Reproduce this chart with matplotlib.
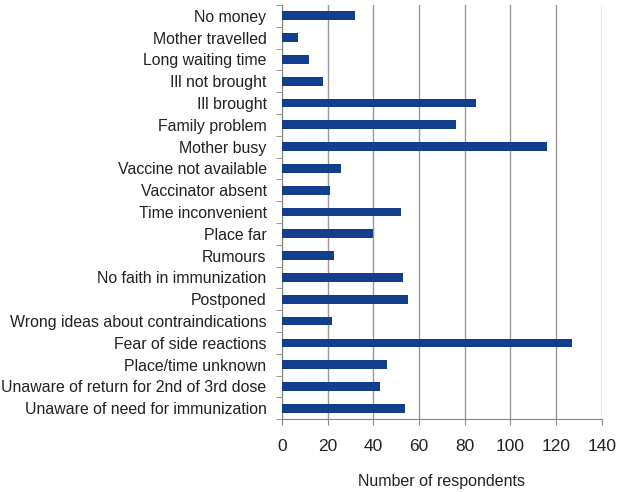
import numpy as np
import matplotlib.pyplot as plt
from matplotlib.ticker import FixedLocator

plt.rcParams["font.family"] = ["Liberation Sans", "DejaVu Sans"]

reasons = [
    "No money", "Mother travelled", "Long waiting time", "Ill not brought",
    "Ill brought", "Family problem", "Mother busy", "Vaccine not available",
    "Vaccinator absent", "Time inconvenient", "Place far", "Rumours",
    "No faith in immunization", "Postponed",
    "Wrong ideas about contraindications", "Fear of side reactions",
    "Place/time unknown", "Unaware of return for 2nd of 3rd dose",
    "Unaware of need for immunization",
]
respondents = [32, 7, 12, 18, 85, 76, 116, 26, 21, 52, 40, 23, 53, 55, 22,
               127, 46, 43, 54]
xticks = [0, 20, 40, 60, 80, 100, 120, 140]

fig = plt.figure(figsize=(6.18, 4.92), dpi=100)
ax = fig.add_axes([0.456, 0.148, 0.518, 0.842])

y = np.arange(len(reasons))
ax.barh(y, respondents, height=0.4, color="#123f8c", zorder=3)
ax.set_ylim(len(reasons) - 0.5, -0.5)
ax.set_xlim(0, 140)
ax.set_xticks(xticks)
ax.set_yticks(y)
ax.set_yticklabels(reasons, fontsize=11.4, color="#222222")
ax.tick_params(axis="y", length=0, pad=11)
ax.yaxis.set_minor_locator(FixedLocator(np.arange(-0.5, len(reasons), 1)))
ax.tick_params(axis="y", which="minor", length=4, color="#888888")
ax.tick_params(axis="x", length=4, color="#888888", labelsize=12.5,
               labelcolor="#222222", pad=10)
ax.xaxis.grid(True, color="#999999", linewidth=1, zorder=0)
for s in ["top", "right"]:
    ax.spines[s].set_visible(False)
for s in ["left", "bottom"]:
    ax.spines[s].set_color("#888888")
ax.set_xlabel("Number of respondents", fontsize=11.5, color="#222222",
              labelpad=15)

fig.savefig("out.png", dpi=100)
